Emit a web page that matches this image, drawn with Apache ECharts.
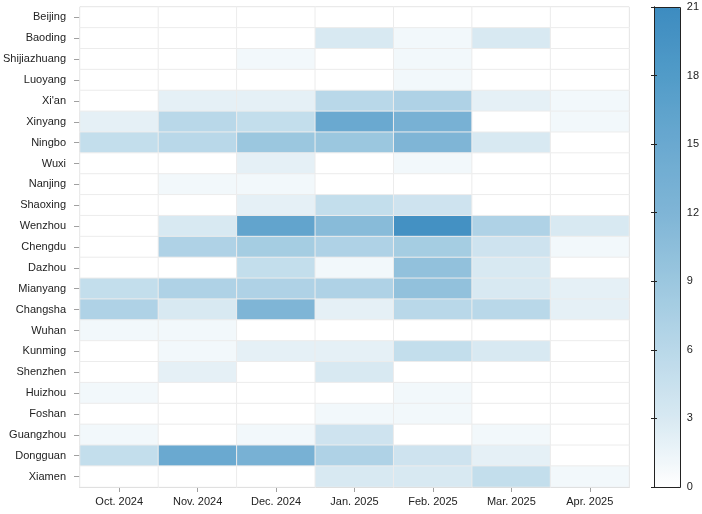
<!DOCTYPE html>
<html>
<head>
<meta charset="utf-8">
<script src="https://cdn.jsdelivr.net/npm/echarts@6/dist/echarts.min.js"></script>
<style>
  html, body { margin: 0; padding: 0; background: #fff; }
  #chart { width: 702px; height: 514px; }
</style>
</head>
<body>
<div id="chart"></div>
<script>
const months = ['Oct. 2024', 'Nov. 2024', 'Dec. 2024', 'Jan. 2025', 'Feb. 2025', 'Mar. 2025', 'Apr. 2025']
const cities = ['Beijing', 'Baoding', 'Shijiazhuang', 'Luoyang', "Xi'an", 'Xinyang', 'Ningbo', 'Wuxi',
  'Nanjing', 'Shaoxing', 'Wenzhou', 'Chengdu', 'Dazhou', 'Mianyang', 'Changsha', 'Wuhan',
  'Kunming', 'Shenzhen', 'Huizhou', 'Foshan', 'Guangzhou', 'Dongguan', 'Xiamen']
// one row per city, columns follow months
const counts = [
  [0, 0, 0, 0, 0, 0, 0],
  [0, 0, 0, 3, 1, 3, 0],
  [0, 0, 1, 0, 1, 0, 0],
  [0, 0, 0, 0, 1, 0, 0],
  [0, 2, 2, 6, 7, 2, 1],
  [2, 6, 5, 15, 13, 0, 1],
  [5, 6, 9, 9, 12, 3, 0],
  [0, 0, 2, 0, 1, 0, 0],
  [0, 1, 1, 0, 0, 0, 0],
  [0, 0, 2, 5, 4, 0, 0],
  [0, 3, 16, 11, 20, 7, 3],
  [0, 7, 8, 7, 8, 4, 1],
  [0, 0, 5, 1, 10, 3, 0],
  [5, 7, 7, 7, 10, 3, 2],
  [7, 3, 12, 2, 6, 6, 2],
  [1, 1, 0, 0, 0, 0, 0],
  [0, 1, 2, 2, 5, 3, 0],
  [0, 2, 0, 3, 0, 0, 0],
  [1, 0, 0, 0, 1, 0, 0],
  [0, 0, 0, 1, 1, 0, 0],
  [1, 0, 1, 4, 0, 1, 0],
  [5, 15, 13, 7, 4, 2, 0],
  [0, 0, 0, 3, 3, 5, 1]
]
const scaleColors = ['#ffffff', '#d8e9f2', '#b9d8e9', '#9bc7df', '#7fb5d6', '#6aa9d0', '#519bc8', '#3d8cc0']

const heatData = []
counts.forEach((row, ci) => {
  row.forEach((v, mi) => heatData.push([mi, ci, v]))
})

const font = 'Liberation Sans, Arial, sans-serif'
const chart = echarts.init(document.getElementById('chart'))
chart.setOption({
  animation: false,
  grid: [
    { left: 80, top: 7, width: 549, height: 480, show: true, borderColor: '#b0b0b0', borderWidth: 1 },
    { left: 654, top: 7, width: 26, height: 480 }
  ],
  xAxis: [
    {
      type: 'category',
      data: months,
      gridIndex: 0,
      axisLine: { show: true, lineStyle: { color: '#a8a8a8' } },
      axisTick: { show: true, alignWithLabel: true, length: 5, lineStyle: { color: '#a0a0a0' } },
      axisLabel: { color: '#222', fontSize: 11, fontFamily: font, margin: 9 },
      splitLine: { show: false }
    },
    { type: 'value', gridIndex: 1, show: false, min: 0, max: 1 }
  ],
  yAxis: [
    {
      type: 'category',
      data: cities,
      inverse: true,
      gridIndex: 0,
      axisLine: { show: true, lineStyle: { color: '#a8a8a8' } },
      axisTick: { show: true, alignWithLabel: true, length: 6, lineStyle: { color: '#a0a0a0' } },
      axisLabel: { color: '#222', fontSize: 11, fontFamily: font, margin: 14 },
      splitLine: { show: false }
    },
    {
      type: 'value',
      gridIndex: 1,
      position: 'right',
      min: 0,
      max: 21,
      interval: 3,
      z: 10,
      axisLine: { show: true, lineStyle: { color: '#222' } },
      axisTick: { show: true, inside: true, length: 3, lineStyle: { color: '#222' } },
      axisLabel: { color: '#222', fontSize: 11, fontFamily: font, margin: 7 },
      splitLine: { show: false }
    },
    {
      type: 'value',
      gridIndex: 1,
      position: 'left',
      min: 0,
      max: 21,
      interval: 3,
      z: 10,
      axisLine: { show: true, lineStyle: { color: '#222' } },
      axisTick: { show: true, inside: true, length: 3, lineStyle: { color: '#222' } },
      axisLabel: { show: false },
      splitLine: { show: false }
    }
  ],
  visualMap: {
    type: 'continuous',
    min: 0,
    max: 21,
    seriesIndex: 0,
    calculable: false,
    orient: 'vertical',
    left: 654,
    top: 7,
    itemWidth: 26,
    itemHeight: 480,
    padding: 0,
    inRange: { color: scaleColors }
  },
  graphic: [{
    type: 'rect',
    z: 100,
    shape: { x: 654.5, y: 7.5, width: 26, height: 480 },
    style: { fill: 'none', stroke: '#222', lineWidth: 1 }
  }],
  series: [{
    type: 'heatmap',
    xAxisIndex: 0,
    yAxisIndex: 0,
    data: heatData,
    itemStyle: { borderColor: '#ececec', borderWidth: 1 },
    emphasis: { disabled: true }
  }]
})
</script>
</body>
</html>
